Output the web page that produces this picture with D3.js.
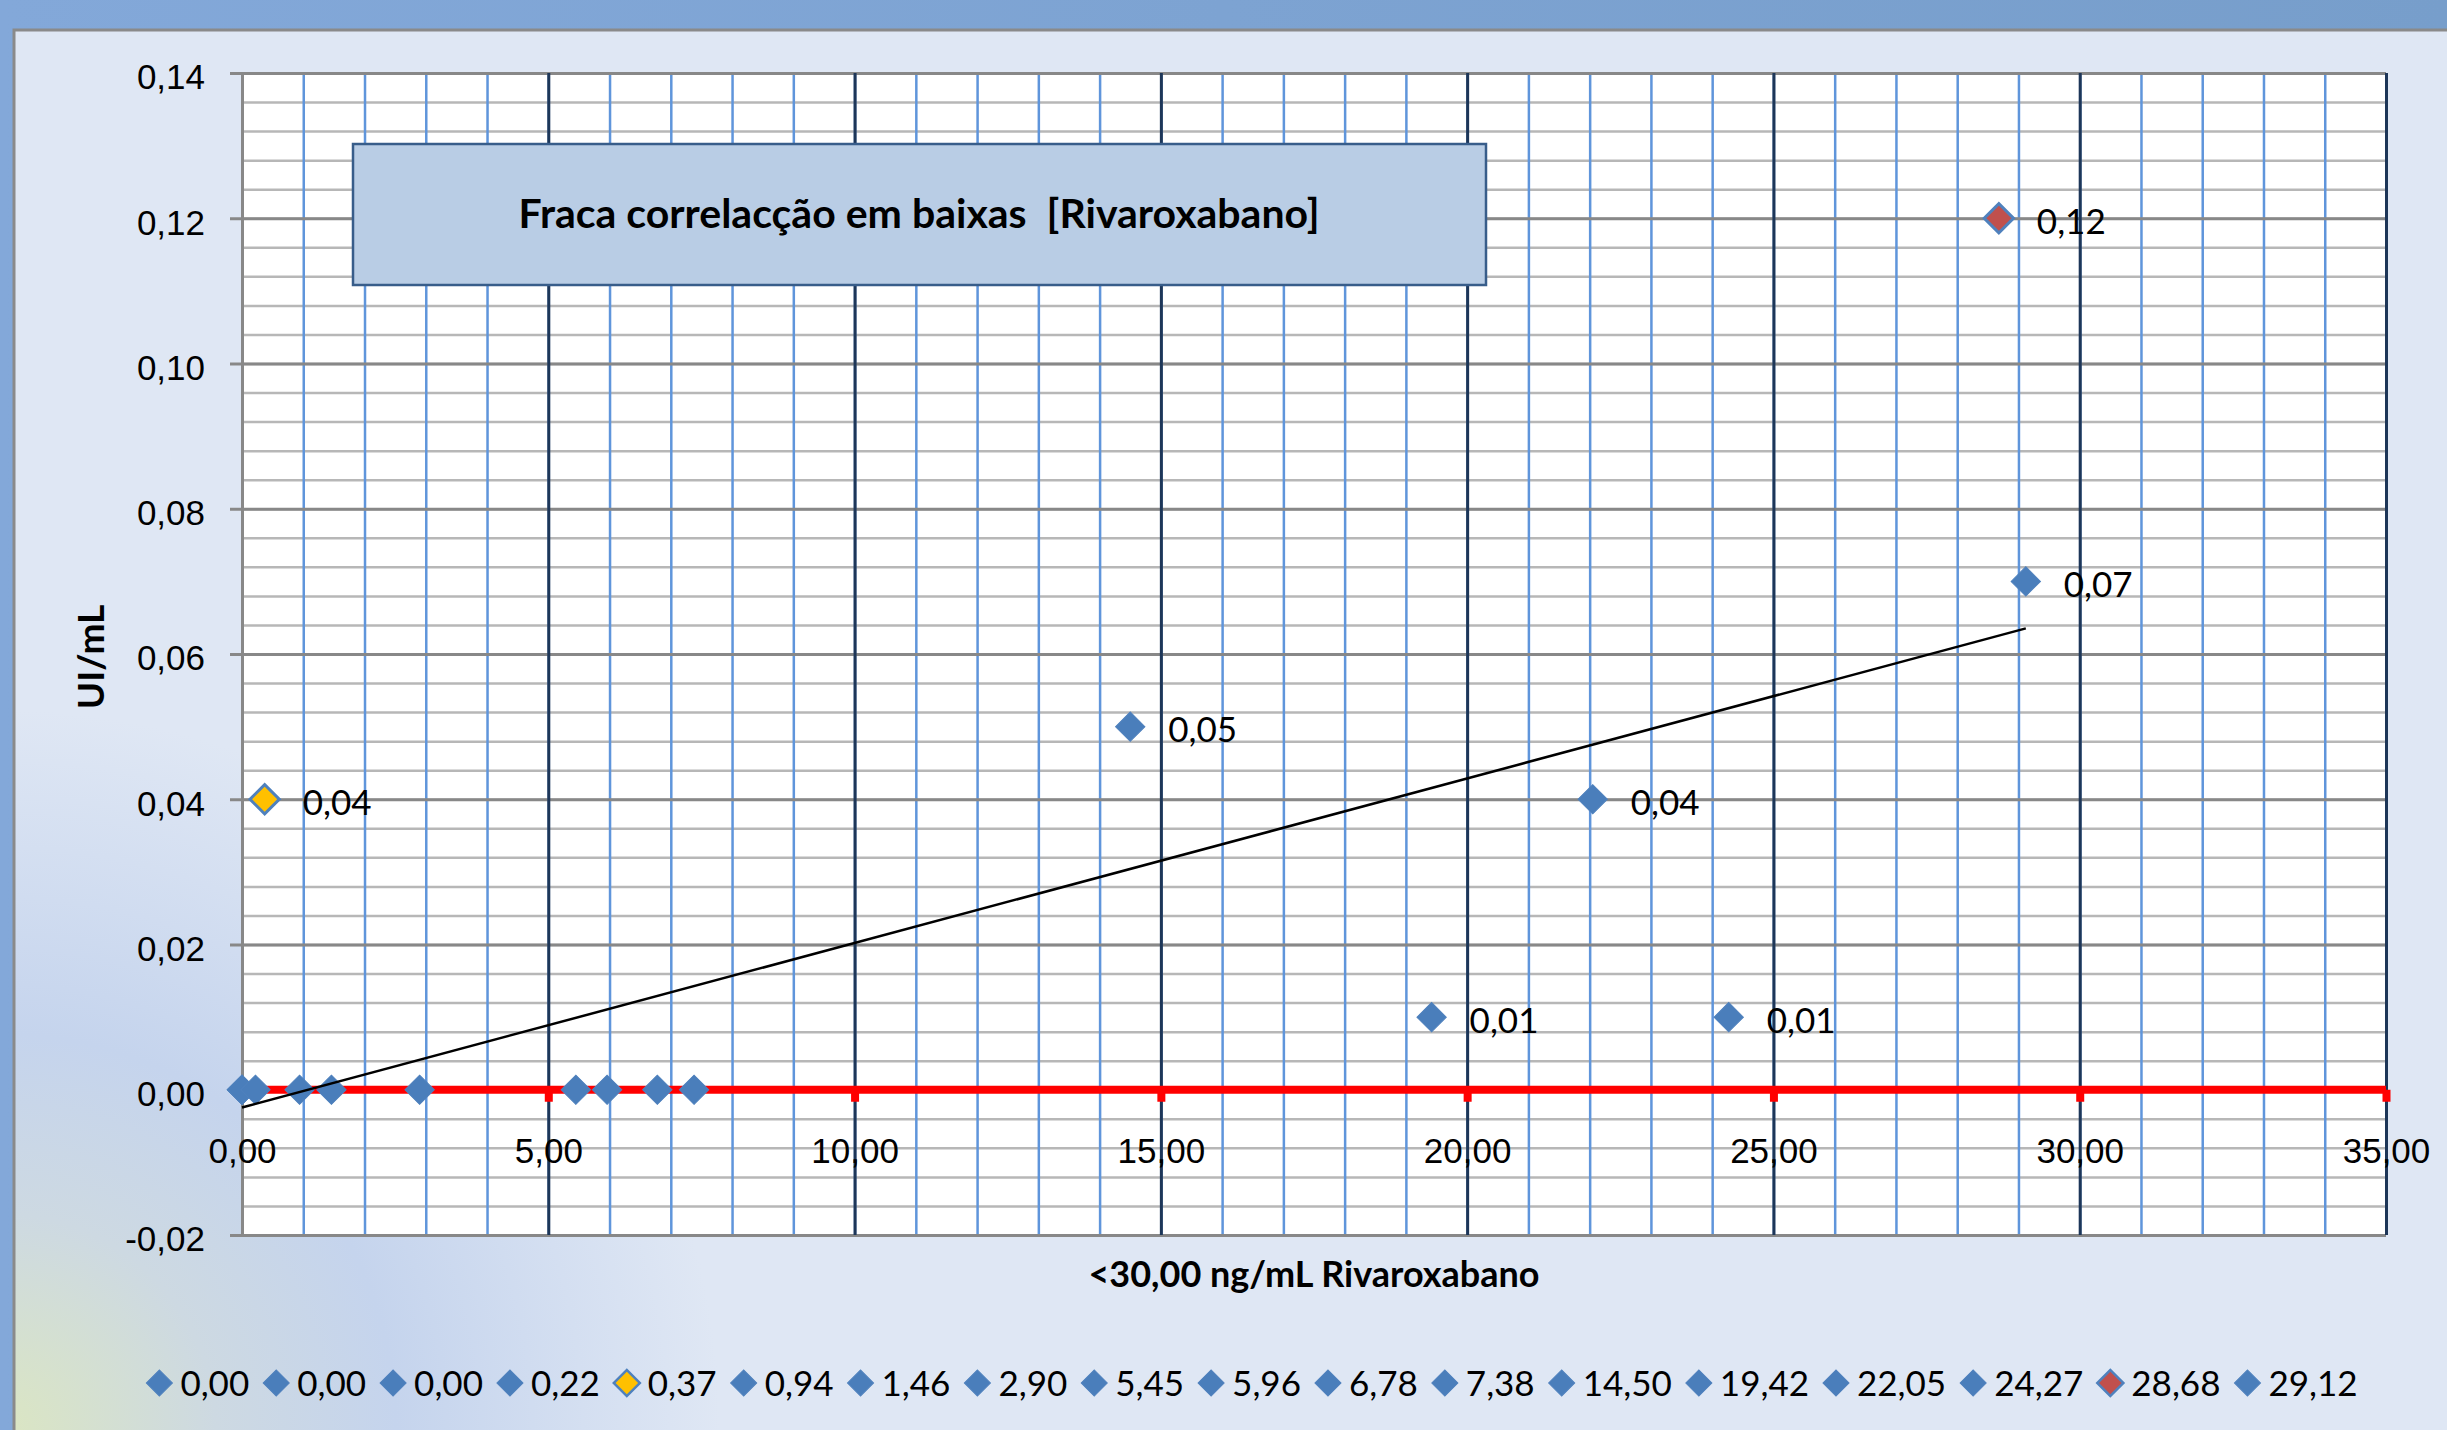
<!DOCTYPE html>
<html>
<head>
<meta charset="utf-8">
<script src="https://cdn.jsdelivr.net/npm/d3@7"></script>
<style>
  body { margin: 0; background: #dfe7f4; }
  svg { display: block; font-family: Lato, "Open Sans", sans-serif; }
</style>
</head>
<body>
<div id="chart"></div>
<script>
// data (x = ng/mL Rivaroxabano, y = UI/mL)
const concentracoes = [0.00, 0.00, 0.00, 0.22, 0.37, 0.94, 1.46, 2.90, 5.45, 5.96, 6.78, 7.38, 14.50, 19.42, 22.05, 24.27, 28.68, 29.12];
const atividade = [0.00, 0.00, 0.00, 0.00, 0.04, 0.00, 0.00, 0.00, 0.00, 0.00, 0.00, 0.00, 0.05, 0.01, 0.04, 0.01, 0.12, 0.07];
const xTicks = [0, 5, 10, 15, 20, 25, 30, 35];
const yTicks = [-0.02, 0, 0.02, 0.04, 0.06, 0.08, 0.10, 0.12, 0.14];
const titulo = "Fraca correlacção em baixas  [Rivaroxabano]";
const tituloX = "<30,00 ng/mL Rivaroxabano";
const tituloY = "UI/mL";

// marker fills that differ from the default series colour
const blue = "#4a7ebb";
const specialFill = {4: "#ffc000", 16: "#c0504d"};

const W = 2447, H = 1430;
const plot = {left: 242, top: 73, right: 2386, bottom: 1235};

const pt = d3.formatLocale({decimal: ",", thousands: ".", grouping: [3], currency: ["", ""], minus: "-"});
const fmt = pt.format(".2f");

const svg = d3.select("#chart").append("svg")
  .attr("width", W)
  .attr("height", H);

// background
const defs = svg.append("defs");
const rg = defs.append("radialGradient").attr("id", "corner")
  .attr("gradientUnits", "userSpaceOnUse")
  .attr("cx", 0).attr("cy", H).attr("r", 720);
rg.append("stop").attr("offset", "0%").attr("stop-color", "#dbe6c2");
rg.append("stop").attr("offset", "30%").attr("stop-color", "#cdd9e2");
rg.append("stop").attr("offset", "55%").attr("stop-color", "#c5d4ed");
rg.append("stop").attr("offset", "100%").attr("stop-color", "#dfe7f4");

const tg = defs.append("linearGradient").attr("id", "topband").attr("x1", 0).attr("x2", 1).attr("y1", 0).attr("y2", 0);
tg.append("stop").attr("offset", "0%").attr("stop-color", "#83a8d9");
tg.append("stop").attr("offset", "100%").attr("stop-color", "#779ecb");

svg.append("rect").attr("width", W).attr("height", H).attr("fill", "url(#topband)");
svg.append("rect").attr("x", 14).attr("y", 30).attr("width", W).attr("height", H).attr("fill", "url(#corner)");
svg.append("path")
  .attr("d", `M14,${H} L14,30 L${W},30`)
  .attr("fill", "none").attr("stroke", "#8a8a8a").attr("stroke-width", 3);

const x = d3.scaleLinear().domain([0, 35]).range([plot.left, plot.right]);
const y = d3.scaleLinear().domain([-0.02, 0.14]).range([plot.bottom, plot.top]);
const plotW = plot.right - plot.left, plotH = plot.bottom - plot.top;

svg.append("rect")
  .attr("x", plot.left).attr("y", plot.top)
  .attr("width", plotW).attr("height", plotH)
  .attr("fill", "#ffffff");

// gridlines
const minorY = d3.range(41).map(i => -0.02 + i * 0.004);
const minorX = d3.range(36);

function grid(g, color, w) {
  g.select(".domain").remove();
  g.selectAll("line").attr("stroke", color).attr("stroke-width", w);
}

svg.append("g")
  .attr("transform", `translate(${plot.left},0)`)
  .call(d3.axisLeft(y).tickValues(minorY).tickSize(-plotW).tickFormat(""))
  .call(grid, "#b7b7b7", 2.5);

svg.append("g")
  .attr("transform", `translate(0,${plot.bottom})`)
  .call(d3.axisBottom(x).tickValues(minorX).tickSize(-plotH).tickFormat(""))
  .call(grid, "#5f95db", 2.5);

svg.append("g")
  .attr("transform", `translate(${plot.left},0)`)
  .call(d3.axisLeft(y).tickValues(yTicks).tickSize(-plotW).tickFormat(""))
  .call(grid, "#888888", 3);

svg.append("g")
  .attr("transform", `translate(0,${plot.bottom})`)
  .call(d3.axisBottom(x).tickValues(xTicks.slice(1)).tickSize(-plotH).tickFormat(""))
  .call(grid, "#1d3658", 3);

// y axis
const yAxis = svg.append("g")
  .attr("transform", `translate(${plot.left},0)`)
  .call(d3.axisLeft(y).tickValues(yTicks).tickSize(12).tickPadding(25).tickFormat(fmt));
yAxis.select(".domain").attr("stroke", "#888888").attr("stroke-width", 3);
yAxis.selectAll("line").attr("stroke", "#888888").attr("stroke-width", 3);
yAxis.selectAll("text").attr("font-size", 35).attr("fill", "#000").attr("dy", "0.45em");

// x axis drawn red at y = 0
const xAxis = svg.append("g")
  .attr("transform", `translate(0,${y(0)})`)
  .call(d3.axisBottom(x).tickValues(xTicks).tickSize(12).tickPadding(36).tickFormat(fmt));
xAxis.select(".domain").remove();
xAxis.insert("line", ":first-child")
  .attr("x1", plot.left).attr("x2", plot.right)
  .attr("stroke", "#ff0000").attr("stroke-width", 8);
xAxis.selectAll(".tick line").attr("stroke", "#ff0000").attr("stroke-width", 8);
xAxis.selectAll(".tick").filter(d => d === 0).select("line").remove();
xAxis.selectAll("text").attr("font-size", 35).attr("fill", "#000");

// points
const pts = concentracoes.map((c, i) => ({x: c, y: atividade[i], i}));
const diamond = d3.symbol().type(d3.symbolSquare).size(430);

svg.append("g").selectAll("path")
  .data(pts)
  .join("path")
  .attr("d", diamond)
  .attr("transform", d => `translate(${x(d.x)},${y(d.y)}) rotate(45)`)
  .attr("fill", d => specialFill[d.i] || blue)
  .attr("stroke", "#4f81bd")
  .attr("stroke-width", d => specialFill[d.i] ? 3 : 1);

// data labels for non-zero values
svg.append("g").selectAll("text")
  .data(pts.filter(d => d.y !== 0))
  .join("text")
  .attr("x", d => x(d.x) + 38)
  .attr("y", d => y(d.y))
  .attr("dy", "0.45em")
  .attr("font-size", 35)
  .text(d => fmt(d.y));

// linear trendline
const mx = d3.mean(concentracoes), my = d3.mean(atividade);
const sxy = d3.sum(concentracoes, (c, i) => (c - mx) * (atividade[i] - my));
const sxx = d3.sum(concentracoes, c => (c - mx) * (c - mx));
const slope = sxy / sxx, intercept = my - slope * mx;
const ext = d3.extent(concentracoes);
svg.append("path")
  .datum(ext.map(v => [v, intercept + slope * v]))
  .attr("d", d3.line().x(d => x(d[0])).y(d => y(d[1])))
  .attr("fill", "none")
  .attr("stroke", "#000")
  .attr("stroke-width", 2.5);

// title box
svg.append("rect")
  .attr("x", 353).attr("y", 144).attr("width", 1133).attr("height", 141)
  .attr("fill", "#b9cde5").attr("stroke", "#385d8a").attr("stroke-width", 2.5);
svg.append("text")
  .attr("x", 919).attr("y", 228)
  .attr("text-anchor", "middle")
  .attr("font-size", 41).attr("font-weight", "bold")
  .attr("xml:space", "preserve")
  .style("white-space", "pre")
  .text(titulo);

// axis titles
svg.append("text")
  .attr("x", (plot.left + plot.right) / 2).attr("y", 1287)
  .attr("text-anchor", "middle")
  .attr("font-size", 36).attr("font-weight", "bold")
  .text(tituloX);
svg.append("text")
  .attr("transform", "translate(104,657) rotate(-90)")
  .attr("text-anchor", "middle")
  .attr("font-size", 37).attr("font-weight", "bold")
  .text(tituloY);

// legend
const legend = svg.append("g").attr("transform", "translate(0,1383)");
const legendMark = d3.symbol().type(d3.symbolSquare).size(340);
let cx = 0;
pts.forEach(d => {
  const g = legend.append("g");
  g.append("path")
    .attr("d", legendMark)
    .attr("transform", "rotate(45)")
    .attr("fill", specialFill[d.i] || blue)
    .attr("stroke", "#4f81bd")
    .attr("stroke-width", specialFill[d.i] ? 2.5 : 1);
  const t = g.append("text")
    .attr("x", 21).attr("dy", "0.38em")
    .attr("font-size", 35)
    .text(fmt(d.x));
  const w = t.node().getComputedTextLength();
  g.attr("transform", `translate(${cx},0)`);
  cx += 21 + w + 27;
});
const total = cx - 27 + 13;
const start = 1252 - total / 2 + 13;
legend.attr("transform", `translate(${start},1383)`);
</script>
</body>
</html>
